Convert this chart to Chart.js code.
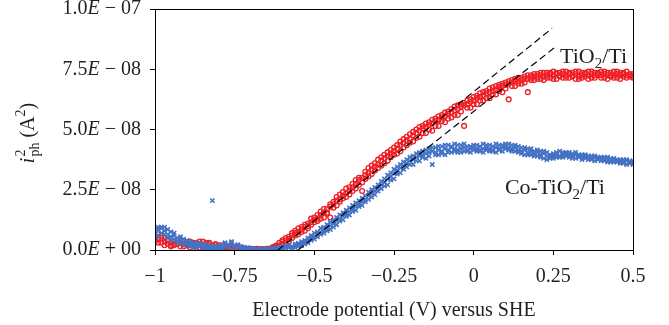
<!DOCTYPE html>
<html>
<head>
<meta charset="utf-8">
<script src="https://cdn.jsdelivr.net/npm/chart.js@4.4.0/dist/chart.umd.min.js"></script>
<style>
html, body { margin: 0; padding: 0; background: #fff; }
</style>
</head>
<body>
<canvas id="chart" width="669" height="325"></canvas>
<script>
// electrode potential (V vs SHE), one sweep point every 10 mV
const potential = [
  -1.00, -0.99, -0.98, -0.97, -0.96, -0.95, -0.94, -0.93, -0.92, -0.91,
  -0.90, -0.89, -0.88, -0.87, -0.86, -0.85, -0.84, -0.83, -0.82, -0.81,
  -0.80, -0.79, -0.78, -0.77, -0.76, -0.75, -0.74, -0.73, -0.72, -0.71,
  -0.70, -0.69, -0.68, -0.67, -0.66, -0.65, -0.64, -0.63, -0.62, -0.61,
  -0.60, -0.59, -0.58, -0.57, -0.56, -0.55, -0.54, -0.53, -0.52, -0.51,
  -0.50, -0.49, -0.48, -0.47, -0.46, -0.45, -0.44, -0.43, -0.42, -0.41,
  -0.40, -0.39, -0.38, -0.37, -0.36, -0.35, -0.34, -0.33, -0.32, -0.31,
  -0.30, -0.29, -0.28, -0.27, -0.26, -0.25, -0.24, -0.23, -0.22, -0.21,
  -0.20, -0.19, -0.18, -0.17, -0.16, -0.15, -0.14, -0.13, -0.12, -0.11,
  -0.10, -0.09, -0.08, -0.07, -0.06, -0.05, -0.04, -0.03, -0.02, -0.01,
  0.00, 0.01, 0.02, 0.03, 0.04, 0.05, 0.06, 0.07, 0.08, 0.09,
  0.10, 0.11, 0.12, 0.13, 0.14, 0.15, 0.16, 0.17, 0.18, 0.19,
  0.20, 0.21, 0.22, 0.23, 0.24, 0.25, 0.26, 0.27, 0.28, 0.29,
  0.30, 0.31, 0.32, 0.33, 0.34, 0.35, 0.36, 0.37, 0.38, 0.39,
  0.40, 0.41, 0.42, 0.43, 0.44, 0.45, 0.46, 0.47, 0.48, 0.49,
  0.50
];

// i_ph^2 in units of 1E-08 A^2, three passes per electrode
const tio2A = [
  0.55, 0.45, 0.60, 0.35, 0.25, 0.30, 0.20, 0.40, 0.30, 0.25,
  0.20, 0.35, 0.30, 0.15, 0.25, 0.20, 0.30, 0.15, 0.20, 0.10,
  0.15, 0.10, 0.05, 0.10, 0.05, 0.08, 0.04, 0.06, 0.02, 0.05,
  0.03, 0.00, 0.02, 0.01, 0.03, 0.00, 0.02, 0.05, 0.10, 0.20,
  0.25, 0.40, 0.45, 0.60, 0.70, 0.75, 0.85, 0.95, 1.00, 1.15,
  1.25, 1.30, 1.45, 1.55, 1.70, 1.80, 1.90, 2.05, 2.10, 2.25,
  2.35, 2.45, 2.60, 2.75, 2.90, 3.00, 3.10, 3.20, 3.35, 3.45,
  3.55, 3.70, 3.80, 3.90, 4.00, 4.10, 4.20, 4.35, 4.45, 4.55,
  4.60, 4.75, 4.85, 4.95, 5.05, 5.10, 5.20, 5.25, 5.35, 5.40,
  5.50, 5.55, 5.65, 5.70, 5.80, 5.85, 5.95, 6.00, 6.05, 6.15,
  6.20, 6.30, 6.35, 6.40, 6.50, 6.55, 6.60, 6.65, 6.75, 6.80,
  6.85, 6.90, 6.95, 7.00, 7.00, 7.05, 7.10, 7.10, 7.15, 7.20,
  7.20, 7.25, 7.20, 7.25, 7.30, 7.25, 7.30, 7.25, 7.30, 7.25,
  7.30, 7.25, 7.30, 7.20, 7.25, 7.30, 7.25, 7.30, 7.25, 7.30,
  7.25, 7.30, 7.25, 7.20, 7.25, 7.30, 7.25, 7.20, 7.25, 7.20,
  7.20
];
const tio2B = [
  0.35, 0.65, 0.30, 0.50, 0.40, 0.20, 0.35, 0.25, 0.15, 0.35,
  0.30, 0.20, 0.15, 0.30, 0.10, 0.35, 0.20, 0.25, 0.10, 0.20,
  0.08, 0.20, 0.12, 0.03, 0.10, 0.02, 0.07, 0.01, 0.04, 0.00,
  0.05, 0.02, 0.00, 0.04, 0.01, 0.03, 0.06, 0.12, 0.15, 0.30,
  0.35, 0.30, 0.55, 0.50, 0.80, 0.65, 0.95, 0.80, 1.10, 1.05,
  1.35, 1.20, 1.60, 1.35, 1.55, 1.35, 1.75, 2.20, 2.00, 2.40,
  2.20, 2.60, 2.45, 2.90, 2.70, 2.45, 3.25, 3.05, 3.50, 3.30,
  3.75, 3.50, 3.95, 3.70, 4.15, 3.95, 4.35, 4.10, 4.60, 4.35,
  4.80, 4.50, 5.00, 4.70, 5.15, 4.85, 5.30, 4.95, 5.45, 5.15,
  5.60, 5.30, 5.75, 5.50, 5.95, 5.60, 6.05, 5.15, 6.20, 5.90,
  6.35, 6.05, 6.50, 6.20, 6.60, 6.30, 6.75, 6.45, 6.85, 6.55,
  6.95, 6.25, 7.05, 6.80, 7.15, 6.90, 7.20, 6.55, 7.25, 7.05,
  7.30, 7.10, 7.35, 7.15, 7.35, 7.10, 7.35, 7.20, 7.40, 7.15,
  7.35, 7.20, 7.40, 7.10, 7.35, 7.20, 7.40, 7.15, 7.35, 7.25,
  7.40, 7.15, 7.35, 7.25, 7.40, 7.15, 7.35, 7.30, 7.40, 7.30,
  7.30
];
const tio2C = [
  0.45, 0.30, 0.50, 0.20, 0.45, 0.15, 0.25, 0.30, 0.40, 0.15,
  0.25, 0.10, 0.25, 0.20, 0.35, 0.10, 0.15, 0.30, 0.05, 0.25,
  0.20, 0.05, 0.10, 0.15, 0.00, 0.12, 0.03, 0.10, 0.06, 0.02,
  0.00, 0.04, 0.05, 0.00, 0.02, 0.05, 0.00, 0.08, 0.18, 0.12,
  0.40, 0.50, 0.35, 0.70, 0.60, 0.90, 0.75, 1.05, 0.90, 1.30,
  1.15, 1.45, 1.30, 1.70, 1.50, 1.90, 2.00, 1.85, 2.30, 2.15,
  2.55, 2.30, 2.75, 2.55, 3.00, 2.80, 2.95, 3.40, 3.15, 3.60,
  3.40, 3.85, 3.60, 4.05, 3.85, 4.25, 4.00, 4.50, 4.25, 4.70,
  4.45, 4.90, 4.65, 5.10, 4.85, 5.25, 5.00, 5.40, 5.15, 5.55,
  5.35, 5.70, 5.45, 5.85, 5.60, 6.00, 5.75, 6.10, 5.90, 6.25,
  6.05, 6.40, 6.20, 6.55, 6.30, 6.70, 6.45, 6.80, 6.60, 6.90,
  6.70, 7.00, 6.80, 7.10, 6.90, 7.15, 6.95, 7.25, 7.05, 7.30,
  7.10, 7.35, 7.05, 7.35, 7.15, 7.40, 7.10, 7.35, 7.15, 7.40,
  7.15, 7.35, 7.10, 7.40, 7.15, 7.35, 7.10, 7.40, 7.15, 7.35,
  7.15, 7.40, 7.10, 7.35, 7.15, 7.40, 7.10, 7.35, 7.15, 7.25,
  7.15
];
const coA = [
  0.70, 0.85, 0.90, 0.80, 0.65, 0.55, 0.45, 0.50, 0.35, 0.30,
  0.40, 0.25, 0.20, 0.25, 0.15, 0.20, 0.15, 0.10, 0.15, 0.10,
  0.12, 0.10, 0.15, 0.20, 0.25, 0.20, 0.15, 0.10, 0.08, 0.05,
  0.04, 0.02, 0.03, 0.01, 0.02, 0.00, 0.02, 0.04, 0.05, 0.08,
  0.10, 0.12, 0.10, 0.15, 0.18, 0.20, 0.25, 0.30, 0.40, 0.50,
  0.55, 0.65, 0.75, 0.80, 0.90, 1.00, 1.10, 1.20, 1.30, 1.40,
  1.50, 1.60, 1.70, 1.80, 1.90, 2.00, 2.10, 2.25, 2.35, 2.45,
  2.55, 2.70, 2.80, 2.95, 3.05, 3.20, 3.30, 3.40, 3.50, 3.60,
  3.70, 3.75, 3.85, 3.90, 3.95, 4.00, 4.05, 4.10, 4.05, 4.15,
  4.10, 4.20, 4.15, 4.25, 4.20, 4.15, 4.20, 4.25, 4.15, 4.20,
  4.25, 4.20, 4.15, 4.20, 4.25, 4.20, 4.15, 4.25, 4.20, 4.25,
  4.30, 4.25, 4.20, 4.25, 4.15, 4.10, 4.15, 4.05, 4.10, 4.00,
  4.05, 3.95, 4.00, 3.90, 3.85, 3.90, 3.95, 3.90, 3.95, 4.00,
  3.95, 3.90, 3.95, 3.90, 3.85, 3.90, 3.85, 3.80, 3.85, 3.80,
  3.75, 3.80, 3.75, 3.70, 3.75, 3.70, 3.70, 3.65, 3.70, 3.65,
  3.60
];
const coB = [
  0.55, 0.95, 0.70, 0.95, 0.50, 0.75, 0.60, 0.35, 0.55, 0.45,
  0.25, 0.35, 0.10, 0.30, 0.25, 0.10, 0.20, 0.05, 0.08, 0.15,
  0.05, 0.18, 0.25, 0.10, 0.30, 0.12, 0.22, 0.05, 0.12, 0.02,
  0.08, 0.05, 0.00, 0.04, 0.06, 0.03, 0.05, 0.08, 0.02, 0.12,
  0.05, 0.15, 0.20, 0.08, 0.25, 0.15, 0.35, 0.25, 0.50, 0.40,
  0.70, 0.55, 0.90, 0.70, 1.05, 0.85, 1.25, 1.05, 1.45, 1.25,
  1.65, 1.45, 1.85, 1.65, 2.05, 1.85, 2.25, 2.10, 2.50, 2.30,
  2.70, 2.55, 2.95, 2.70, 3.20, 2.95, 3.45, 3.20, 3.65, 3.45,
  3.85, 3.55, 4.00, 3.70, 4.10, 3.80, 4.20, 3.55, 4.25, 3.95,
  4.30, 3.95, 4.35, 4.05, 4.40, 4.05, 4.35, 4.10, 4.30, 4.05,
  4.35, 4.10, 4.30, 4.05, 4.35, 4.10, 4.30, 4.05, 4.35, 4.10,
  4.40, 4.15, 4.35, 4.10, 4.30, 4.00, 4.25, 3.95, 4.20, 3.90,
  4.15, 3.85, 4.10, 3.75, 3.95, 3.80, 4.05, 3.85, 4.05, 3.90,
  4.05, 3.80, 4.05, 3.85, 3.95, 3.80, 3.90, 3.75, 3.90, 3.75,
  3.85, 3.70, 3.85, 3.65, 3.80, 3.65, 3.75, 3.60, 3.75, 3.60,
  3.70
];
const coC = [
  0.85, 0.60, 0.95, 0.65, 0.85, 0.40, 0.70, 0.30, 0.45, 0.20,
  0.35, 0.15, 0.30, 0.10, 0.20, 0.25, 0.05, 0.20, 0.10, 0.05,
  0.20, 0.05, 0.30, 0.15, 0.35, 0.10, 0.20, 0.15, 0.05, 0.10,
  0.02, 0.06, 0.01, 0.05, 0.00, 0.04, 0.01, 0.02, 0.10, 0.05,
  0.15, 0.08, 0.20, 0.12, 0.10, 0.28, 0.18, 0.40, 0.30, 0.60,
  0.45, 0.75, 0.65, 0.95, 0.80, 1.15, 0.95, 1.35, 1.20, 1.55,
  1.40, 1.75, 1.60, 1.95, 1.80, 2.15, 2.00, 2.40, 2.20, 2.60,
  2.45, 2.85, 2.65, 3.10, 2.90, 3.35, 3.15, 3.55, 3.35, 3.75,
  3.55, 3.90, 3.70, 4.05, 3.85, 4.15, 3.90, 4.25, 3.95, 4.30,
  4.00, 4.35, 4.05, 4.30, 4.10, 4.35, 4.05, 4.40, 4.10, 4.30,
  4.15, 4.35, 4.10, 4.40, 4.15, 4.35, 4.10, 4.40, 4.15, 4.35,
  4.20, 4.40, 4.10, 4.35, 4.05, 4.25, 3.95, 4.20, 3.95, 4.10,
  3.90, 4.10, 3.80, 4.05, 3.80, 4.00, 3.85, 4.10, 3.85, 4.05,
  3.85, 4.00, 3.80, 3.95, 3.75, 3.95, 3.75, 3.90, 3.70, 3.85,
  3.70, 3.85, 3.65, 3.80, 3.65, 3.75, 3.60, 3.75, 3.55, 3.70,
  3.55
];
const coOutlierX = [-0.82];
const coOutlierY = [2.05];

// linear fits (dashed), same units
const fitTiO2X = [-0.614, 0.246];
const fitTiO2Y = [0, 9.2];
const fitCoX = [-0.551, 0.252];
const fitCoY = [0, 8.38];

const yUnit = 1e-8;
const RED = '#ee1f26';
const BLUE = '#4472c4';
const INK = '#231f20';
const SERIF = '"Liberation Serif", "DejaVu Serif", serif';

function toPoints(xs, ys) {
  return xs.map((x, i) => ({ x: x, y: ys[i] * yUnit }));
}

function fmtPotential(v) {
  if (v === 0) return '0';
  return v < 0 ? '\u2212' + Math.abs(v) : String(v);
}

// y tick labels like "2.5E − 08" with italic E
function drawSciLabel(ctx, v, xRight, y) {
  let mant = '0.0', sign = '+', exp = '00';
  if (v > 1e-15) {
    const e = Math.floor(Math.log10(v) + 1e-9);
    mant = (v / Math.pow(10, e)).toFixed(1);
    sign = e < 0 ? '\u2212' : '+';
    exp = String(Math.abs(e)).padStart(2, '0');
  }
  const up = '20px ' + SERIF, it = 'italic 20px ' + SERIF;
  const tail = ' ' + sign + ' ' + exp;
  ctx.font = up;
  const wM = ctx.measureText(mant).width;
  const wT = ctx.measureText(tail).width;
  ctx.font = it;
  const wE = ctx.measureText('E').width;
  let x = xRight - wM - wE - wT;
  ctx.font = up; ctx.fillText(mant, x, y); x += wM;
  ctx.font = it; ctx.fillText('E', x, y); x += wE;
  ctx.font = up; ctx.fillText(tail, x, y);
}

// text with a subscript "2" : parts = [before, sub, after]
function drawChem(ctx, parts, x, y) {
  ctx.textAlign = 'left';
  ctx.textBaseline = 'alphabetic';
  ctx.font = '22px ' + SERIF;
  ctx.fillText(parts[0], x, y);
  x += ctx.measureText(parts[0]).width;
  ctx.font = '15px ' + SERIF;
  ctx.fillText(parts[1], x, y + 5);
  x += ctx.measureText(parts[1]).width;
  ctx.font = '22px ' + SERIF;
  ctx.fillText(parts[2], x, y);
}

const decor = {
  id: 'decor',
  afterDraw(chart) {
    const ctx = chart.ctx;
    const a = chart.chartArea;
    const xs = chart.scales.x, ys = chart.scales.y;
    ctx.save();
    // frame
    ctx.strokeStyle = '#000';
    ctx.lineWidth = 1;
    ctx.strokeRect(a.left + 0.5, a.top + 0.5, a.right - a.left, a.bottom - a.top);

    ctx.fillStyle = INK;
    ctx.textBaseline = 'middle';
    ctx.textAlign = 'left';
    ys.ticks.forEach(t => drawSciLabel(ctx, t.value, a.left - 14, ys.getPixelForValue(t.value)));

    // y axis title: i_ph^2 (A^2)
    ctx.translate(34, 133);
    ctx.rotate(-Math.PI / 2);
    ctx.textBaseline = 'alphabetic';
    const big = '20px ' + SERIF, small = '14px ' + SERIF;
    ctx.font = 'italic ' + big; const wi = ctx.measureText('i').width;
    ctx.font = small; const wph = ctx.measureText('ph').width; const w2 = ctx.measureText('2').width;
    ctx.font = big; const wA = ctx.measureText(' (A').width; const wP = ctx.measureText(')').width;
    let x = -(wi + 1 + wph + wA + w2 + wP) / 2;
    ctx.font = 'italic ' + big; ctx.fillText('i', x, 0); x += wi + 1;
    ctx.font = small; ctx.fillText('2', x, -9); ctx.fillText('ph', x, 5); x += wph;
    ctx.font = big; ctx.fillText(' (A', x, 0); x += wA;
    ctx.font = small; ctx.fillText('2', x, -9); x += w2;
    ctx.font = big; ctx.fillText(')', x, 0);
    ctx.restore();

    ctx.save();
    ctx.fillStyle = INK;
    drawChem(ctx, ['TiO', '2', '/Ti'], xs.getPixelForValue(0.271), ys.getPixelForValue(7.76 * yUnit));
    drawChem(ctx, ['Co-TiO', '2', '/Ti'], xs.getPixelForValue(0.098), ys.getPixelForValue(2.32 * yUnit));
    ctx.restore();
  }
};

new Chart(document.getElementById('chart'), {
  type: 'scatter',
  data: {
    datasets: [
      {
        label: 'TiO2/Ti',
        data: toPoints(potential, tio2A).concat(toPoints(potential, tio2B), toPoints(potential, tio2C)),
        pointStyle: 'circle',
        pointRadius: 2.4,
        borderWidth: 1.3,
        borderColor: RED,
        backgroundColor: 'rgba(255,255,255,0)',
        order: 2
      },
      {
        label: 'Co-TiO2/Ti',
        data: toPoints(potential, coA).concat(toPoints(potential, coB), toPoints(potential, coC), toPoints(coOutlierX, coOutlierY)),
        pointStyle: 'crossRot',
        pointRadius: 3,
        borderWidth: 1.6,
        borderColor: BLUE,
        backgroundColor: BLUE,
        order: 1
      },
      {
        label: 'fit TiO2',
        type: 'line',
        data: toPoints(fitTiO2X, fitTiO2Y),
        borderColor: '#000',
        borderWidth: 1.2,
        borderDash: [7, 4],
        pointRadius: 0,
        fill: false,
        order: 0
      },
      {
        label: 'fit Co',
        type: 'line',
        data: toPoints(fitCoX, fitCoY),
        borderColor: '#000',
        borderWidth: 1.2,
        borderDash: [7, 4],
        pointRadius: 0,
        fill: false,
        order: 0
      }
    ]
  },
  options: {
    responsive: false,
    animation: false,
    layout: { padding: { top: 9, right: 36, left: 0, bottom: 0 } },
    plugins: {
      legend: { display: false },
      tooltip: { enabled: false }
    },
    scales: {
      x: {
        type: 'linear',
        min: -1,
        max: 0.5,
        afterFit: s => { s.height = 75; },
        ticks: {
          stepSize: 0.25,
          color: INK,
          padding: 10,
          maxRotation: 0,
          font: { family: SERIF, size: 20 },
          callback: v => fmtPotential(v)
        },
        grid: { drawOnChartArea: false, drawTicks: true, tickLength: 5, color: '#000' },
        border: { color: '#000', width: 1 },
        title: {
          display: true,
          text: 'Electrode potential (V) versus SHE',
          color: INK,
          font: { family: SERIF, size: 20 },
          padding: { top: 0, bottom: 2 }
        }
      },
      y: {
        type: 'linear',
        min: 0,
        max: 1e-7,
        afterFit: s => { s.width = 155; },
        ticks: { stepSize: 2.5e-8, display: false },
        grid: { drawOnChartArea: false, drawTicks: true, tickLength: 5, color: '#000' },
        border: { color: '#000', width: 1 }
      }
    }
  },
  plugins: [decor]
});
</script>
</body>
</html>
